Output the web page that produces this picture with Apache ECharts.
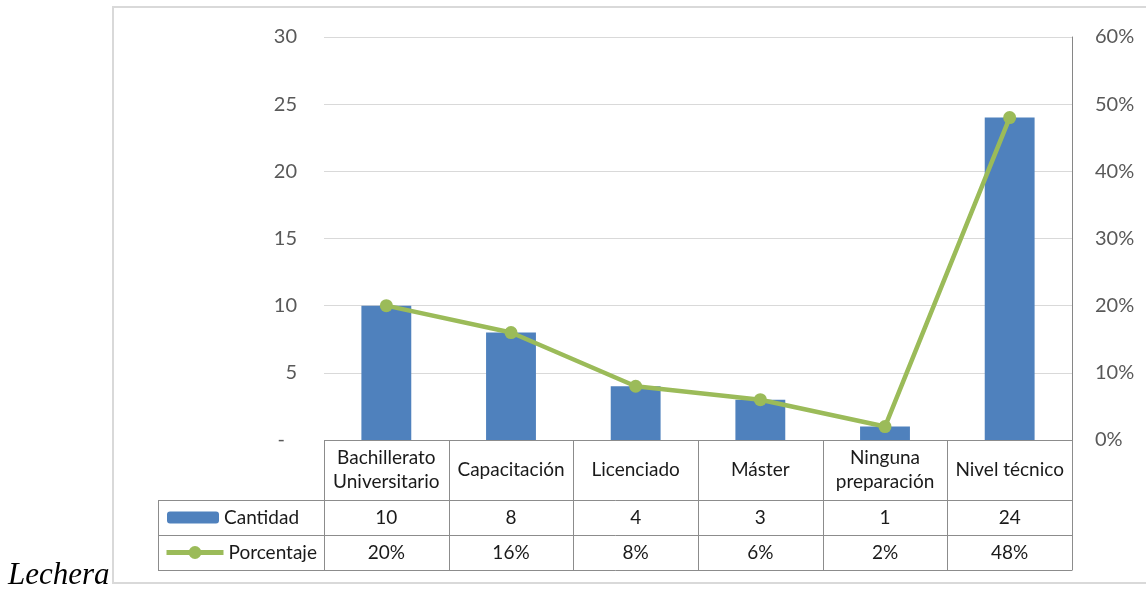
<!DOCTYPE html>
<html><head><meta charset="utf-8">
<script src="https://cdn.jsdelivr.net/npm/echarts@6/dist/echarts.min.js"></script>
<style>html,body{margin:0;padding:0;background:#fff}#c{width:1146px;height:591px}</style>
</head><body><div id="c"></div>
<script>
const categories = ['Bachillerato\nUniversitario', 'Capacitación', 'Licenciado', 'Máster', 'Ninguna\npreparación', 'Nivel técnico'];
const cantidad = [10, 8, 4, 3, 1, 24];
const porcentaje = [0.20, 0.16, 0.08, 0.06, 0.02, 0.48];
const leftTicks = [0, 5, 10, 15, 20, 25, 30];
const rightTicks = [0, 0.1, 0.2, 0.3, 0.4, 0.5, 0.6];
const caption = 'Lechera';

const W = 1146, H = 591;
const G = {left: 324, right: 1072, top: 37, bottom: 440};
const rowH = [60, 35, 35];
const legendLeft = 158;
const F = 'Lato, "Open Sans", sans-serif';
const tableColor = '#8c8c8c';
const pct = v => Math.round(v * 100) + '%';

const chart = echarts.init(document.getElementById('c'), null, {renderer: 'canvas'});
const r1 = G.bottom + rowH[0], r2 = r1 + rowH[1], r3 = r2 + rowH[2];
const tableH = rowH[0] + rowH[1] + rowH[2];

const tableAxis = (offset, data, h, showLabel) => ({
  type: 'category', position: 'bottom', gridIndex: 0, offset: offset, data: data,
  axisLine: {show: false},
  axisTick: {show: false},
  axisLabel: {show: showLabel, interval: 0, margin: h / 2, verticalAlign: 'middle',
    color: '#1a1a1a', fontFamily: F, fontSize: 19, lineHeight: 24},
  splitLine: {show: false}
});

// table border lines (layout only: column boundaries of the category axis, row boundaries)
const tableLines = [];
const seg = (x1, y1, x2, y2) => tableLines.push({type: 'line', z: 100, silent: true,
  shape: {x1, y1, x2, y2}, style: {stroke: tableColor, lineWidth: 1}});
const colW = (G.right - G.left) / categories.length;
for (let i = 0; i <= categories.length; i++) {
  const x = Math.round(G.left + i * colW) + 0.5;
  seg(x, G.bottom, x, r3);
}
seg(G.left, G.bottom + 0.5, G.right, G.bottom + 0.5);
[r1, r2, r3].forEach(y => seg(legendLeft, y + 0.5, G.right + 0.5, y + 0.5));
seg(legendLeft + 0.5, r1, legendLeft + 0.5, r3);

chart.setOption({
  animation: false,
  grid: {left: G.left, right: W - G.right, top: G.top, bottom: H - G.bottom, containLabel: false},
  xAxis: [
    tableAxis(0, categories, rowH[0], true),
    tableAxis(rowH[0], cantidad.map(String), rowH[1], true),
    tableAxis(rowH[0] + rowH[1], porcentaje.map(pct), rowH[2], true)
  ],
  yAxis: [
    {type: 'value', min: leftTicks[0], max: leftTicks[leftTicks.length - 1], interval: leftTicks[1] - leftTicks[0],
     axisLine: {show: false}, axisTick: {show: false},
     splitLine: {lineStyle: {color: '#d9d9d9', width: 1}},
     axisLabel: {margin: 27, color: '#595959', fontFamily: F, fontSize: 20,
       formatter: v => v === 0 ? '{d|-}' : String(v),
       rich: {d: {color: '#595959', fontFamily: F, fontSize: 20, padding: [0, 12, 0, 0]}}}},
    {type: 'value', min: rightTicks[0], max: rightTicks[rightTicks.length - 1], interval: 0.1, position: 'right',
     axisLine: {show: true, lineStyle: {color: '#868686', width: 1}}, axisTick: {show: false},
     splitLine: {show: false},
     axisLabel: {margin: 23, color: '#595959', fontFamily: F, fontSize: 20, formatter: pct}}
  ],
  legend: [
    {data: ['Cantidad'], orient: 'vertical', left: 167, top: r1 + rowH[1] / 2 - 10, padding: 0,
     itemWidth: 52, itemHeight: 12, textStyle: {color: '#1a1a1a', fontFamily: F, fontSize: 19, lineHeight: 20}},
    {data: ['Porcentaje'], orient: 'vertical', left: 164, top: r2 + rowH[2] / 2 - 10, padding: 0,
     itemWidth: 57, itemHeight: 16, lineStyle: {width: 5, color: '#9bbb59'},
     textStyle: {color: '#1a1a1a', fontFamily: F, fontSize: 19, lineHeight: 20}}
  ],
  series: [
    {name: 'Cantidad', type: 'bar', data: cantidad, barWidth: '40%', xAxisIndex: 0, yAxisIndex: 0,
     itemStyle: {color: '#4f81bd'}},
    {name: 'Porcentaje', type: 'line', data: porcentaje, xAxisIndex: 0, yAxisIndex: 1,
     symbol: 'circle', symbolSize: 13, lineStyle: {color: '#9bbb59', width: 4.5},
     itemStyle: {color: '#9bbb59'}}
  ],
  graphic: [
    {type: 'rect', shape: {x: 113, y: 7, width: 1100, height: 576}, style: {fill: 'none', stroke: '#d9d9d9', lineWidth: 2}, silent: true, z: -10},
    ...tableLines,
    {type: 'text', left: 8, top: 560, style: {text: caption, fill: '#000', font: 'italic 31px "Liberation Serif", "DejaVu Serif", serif'}}
  ]
});
</script></body></html>
